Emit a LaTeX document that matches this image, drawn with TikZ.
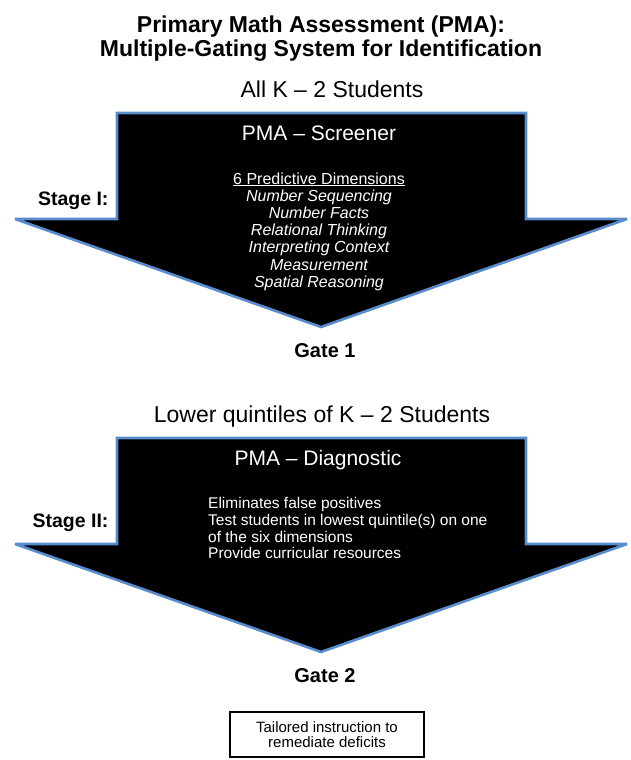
\documentclass[tikz,border=0pt]{standalone}
\usepackage{fontspec}
\setmainfont{Liberation Sans}
\usepackage{tikz}
\definecolor{gateblue}{RGB}{88,140,205}
\def\gatearrow(#1:#2:#3){\draw[arrowbox] (\xbodyl,#1) -- (\xbodyr,#1) -- (\xbodyr,#2) -- (\xwingr,#2) -- (\xtip,#3) -- (\xwingl,#2) -- (\xbodyl,#2) -- cycle;}

\begin{document}
\begin{tikzpicture}[x=1pt,y=-1pt,
    arrowbox/.style={fill=black,draw=gateblue,line width=2.6pt,line join=miter,miter limit=2},
    headtxt/.style={font=\fontsize{23}{24}\selectfont\bfseries,align=center},
    grouptxt/.style={font=\fontsize{23}{26}\selectfont,anchor=base},
    tooltxt/.style={font=\fontsize{21}{25}\selectfont,text=white,anchor=base},
    stagetxt/.style={font=\fontsize{19.5}{22}\selectfont\bfseries,anchor=base east},
    gatetxt/.style={font=\fontsize{20}{22}\selectfont\bfseries,anchor=base}]
	%%%%% SIZES %%%%%
	\def\xbodyl{117}
	\def\xbodyr{526}
	\def\xwingl{15}
	\def\xwingr{627}
	\def\xtip{321}
	\def\yoff{325}
	
	\useasboundingbox (0,0) rectangle (630,760);
	
	\node[headtxt] (title) at (321,39) {Primary Math Assessment (PMA):\\Multiple-Gating System for Identification};
	
	%stage one
	\node[grouptxt] (allstud) at (332,97) {All K -- 2 Students};
	\gatearrow(113:219:327)
	\node[tooltxt] (screener) at (319,140) {PMA -- Screener};
	\node[font=\fontsize{16}{17.2}\selectfont\itshape,text=white,align=center,anchor=north] (dims) at (319,169)
		{{\upshape\underline{6 Predictive Dimensions}}\\Number Sequencing\\Number Facts\\Relational Thinking\\Interpreting Context\\Measurement\\Spatial Reasoning};
	\node[stagetxt] (stageone) at (112,205) {Stage I:};
	\node[gatetxt] (gateone) at (325,357) {Gate 1};
	
	%stage two
	\node[grouptxt] (lowstud) at (322,97+\yoff) {Lower quintiles of K -- 2 Students};
	\gatearrow(113+\yoff:219+\yoff:327+\yoff)
	\node[tooltxt] (diagnostic) at (318,140+\yoff) {PMA -- Diagnostic};
	\node[font=\fontsize{15.5}{16.8}\selectfont,text=white,align=left,anchor=north west,inner sep=0pt] (aims) at (208,497)
		{Eliminates false positives\\Test students in lowest quintile(s) on one\\of the six dimensions\\Provide curricular resources};
	\node[stagetxt] (stagetwo) at (112,527) {Stage II:};
	\node[gatetxt] (gatetwo) at (325,682) {Gate 2};
	
	\node[draw,line width=1.2pt,minimum width=194pt,minimum height=45pt,align=center,
		font=\fontsize{15}{15.5}\selectfont] (tailor) at (327,734.5) {Tailored instruction to\\remediate deficits};
\end{tikzpicture}
\end{document}
